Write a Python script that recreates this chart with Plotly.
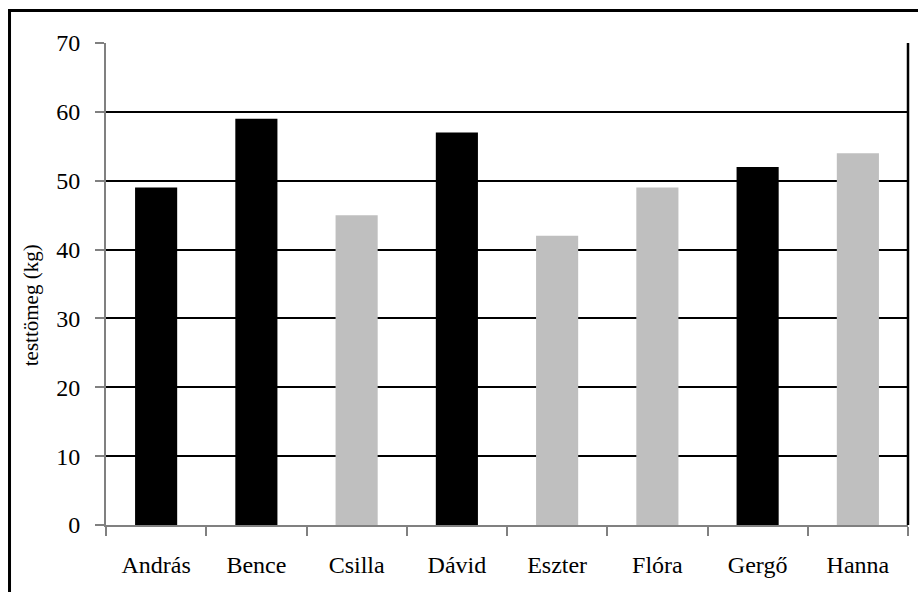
import plotly.graph_objects as go

names = ["András", "Bence", "Csilla", "Dávid", "Eszter", "Flóra", "Gergő", "Hanna"]
weights = [49, 59, 45, 57, 42, 49, 52, 54]
colors = ["#000000", "#000000", "#bfbfbf", "#000000", "#bfbfbf", "#bfbfbf", "#000000", "#bfbfbf"]
y_ticks = [0, 10, 20, 30, 40, 50, 60, 70]
y_title = "testtömeg (kg)"

FONT = "Liberation Serif, Times New Roman, serif"

fig = go.Figure(go.Bar(x=names, y=weights, marker=dict(color=colors, line=dict(width=0)), width=0.42))

W, H = 918, 592
L, R, T, B = 106, 10, 43, 67

fig.update_layout(
    width=W, height=H,
    margin=dict(l=L, r=R, t=T, b=B),
    paper_bgcolor="white", plot_bgcolor="white",
    showlegend=False,
    font=dict(family=FONT, color="black", size=24),
    xaxis=dict(
        type="category", showgrid=False, zeroline=False,
        showline=True, linecolor="#808080", linewidth=2,
        ticks="outside", tickson="boundaries", ticklen=9, tickcolor="#808080", tickwidth=2,
        tickfont=dict(family=FONT, size=24, color="black"),
        ticklabelstandoff=17,
    ),
    yaxis=dict(
        range=[0, 70], tickvals=y_ticks, showgrid=True, gridcolor="black", gridwidth=2,
        zeroline=False, showline=True, linecolor="#808080", linewidth=2,
        ticks="outside", ticklen=9, tickcolor="#808080", tickwidth=2,
        tickfont=dict(family=FONT, size=24, color="black"),
        ticklabelstandoff=10,
    ),
    shapes=[
        dict(type="line", xref="paper", yref="paper", x0=1, x1=1, y0=0, y1=1,
             line=dict(color="black", width=2.5)),
        dict(type="path", xref="paper", yref="paper",
             path="M -0.1203 -0.2 L -0.1203 1.0674 L 1.2 1.0674",
             line=dict(color="black", width=3)),
    ],
    annotations=[
        dict(text=y_title, xref="paper", yref="paper", x=-0.0935, y=0.456,
             textangle=-90, showarrow=False, xanchor="center", yanchor="middle",
             font=dict(family=FONT, size=21, color="black")),
    ],
)

fig.write_html("out.html", config={"displayModeBar": False},
               post_script="document.body.style.margin='0';document.body.style.overflow='hidden';")
